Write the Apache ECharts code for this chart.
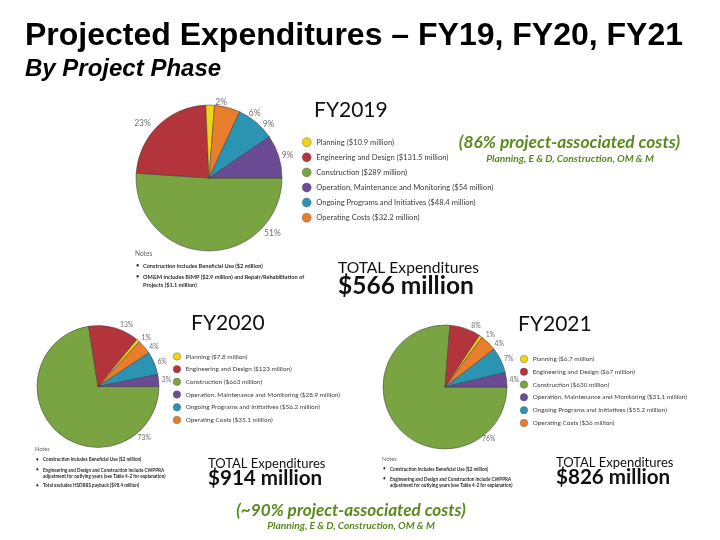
<!DOCTYPE html>
<html>
<head>
<meta charset="utf-8">
<script src="https://cdn.jsdelivr.net/npm/echarts@6/dist/echarts.min.js"></script>
<style>
    html, body { margin: 0; padding: 0; background: #fff; }
    #chart { width: 720px; height: 540px; }
</style>
</head>
<body>
<div id="chart"></div>
<script>
// legend order of the phases
const categories = [
    'Planning',
    'Engineering and Design',
    'Construction',
    'Operation, Maintenance and Monitoring',
    'Ongoing Programs and Initiatives',
    'Operating Costs'
];
const phaseColors = ['#f0d411', '#b3343a', '#7aa342', '#6b4b94', '#2b94b3', '#e87d2b'];
// order the slices are drawn, clockwise from 3 o'clock
const sliceOrder = [2, 1, 0, 5, 4, 3];

const years = ['FY2019', 'FY2020', 'FY2021'];
// $ million, legend order
const fy2019 = [10.9, 131.5, 289, 54, 48.4, 32.2];
const fy2020 = [7.8, 123, 663, 28.9, 56.2, 35.1];
const fy2021 = [6.7, 67, 630, 31.1, 55.2, 36];
// percentages as printed next to the slices
const pct2019 = [2, 23, 51, 9, 9, 6];
const pct2020 = [1, 13, 73, 3, 6, 4];
const pct2021 = [1, 8, 76, 4, 7, 4];
const totals = [566, 914, 826];

const notes2019 = [
    'Construction includes Beneficial Use ($2 million)',
    'OM&M includes BIMP ($2.9 million) and Repair/Rehabilitation of\nProjects ($1.1 million)'
];
const notes2020 = [
    'Construction includes Beneficial Use ($2 million)',
    'Engineering and Design and Construction include CWPPRA\nadjustment for outlying years (see Table 4-2 for explanation)',
    'Total excludes HSDRRS payback ($98.4 million)'
];
const notes2021 = [
    'Construction includes Beneficial Use ($2 million)',
    'Engineering and Design and Construction include CWPPRA\nadjustment for outlying years (see Table 4-2 for explanation)'
];

const yearValues = [fy2019, fy2020, fy2021];
const yearPct = [pct2019, pct2020, pct2021];
const yearNotes = [notes2019, notes2020, notes2021];

// layout of the three panels
const panels = [
    {
        center: [209, 178], r: 73, labelSize: 8.5, bigAngle: 41, bigGap: 11,
        legend: { left: 302, top: 137.5, icon: 9, gap: 5.7, font: 7.6 },
        title: [314, 110], total: [338, 268, 15.6, 24.5],
        notes: { x: 135, y: 254, size: 5.6, step: 11, line: 8.5 }
    },
    {
        center: [98, 386.5], r: 61, labelSize: 6.8, bigAngle: 48, bigGap: 8,
        legend: { left: 173, top: 352.5, icon: 7.5, gap: 4.8, font: 6.4 },
        title: [191, 323], total: [208, 463.5, 13, 20.6],
        notes: { x: 35, y: 449, size: 4.6, step: 10.5, line: 6.5 }
    },
    {
        center: [445, 387], r: 62, labelSize: 6.8, bigAngle: 50, bigGap: 6,
        legend: { left: 520, top: 355, icon: 7.5, gap: 4.9, font: 6.4 },
        title: [518, 324], total: [556, 462.5, 13, 20.6],
        notes: { x: 382, y: 459, size: 4.6, step: 10, line: 6.5 }
    }
];

const chart = echarts.init(document.getElementById('chart'));

const itemName = (y, ci) => categories[ci] + ' ($' + yearValues[y][ci] + ' million)';

const series = [];
const legends = [];
const graphics = [];

function txt(x, y, text, font, fill, extra) {
    graphics.push({
        type: 'text', x: x, y: y, silent: true,
        style: Object.assign({ text: text, font: font, fill: fill, textVerticalAlign: 'middle' }, extra || {})
    });
}

panels.forEach((p, y) => {
    series.push({
        type: 'pie',
        name: years[y],
        center: p.center,
        radius: [0, p.r],
        startAngle: 0,
        clockwise: true,
        animation: false,
        avoidLabelOverlap: true,
        itemStyle: { borderColor: '#3a3a3a', borderWidth: 0.5 },
        label: {
            show: true,
            position: 'outside',
            color: '#707070',
            fontFamily: 'Lato',
            fontSize: p.labelSize,
            formatter: params => yearPct[y][sliceOrder[params.dataIndex]] + '%'
        },
        labelLine: { show: false, length: 3, length2: 0 },
        labelLayout: params => {
            // the big construction slice is labelled at its lower right
            if (params.dataIndex !== 0) return {};
            const a = p.bigAngle * Math.PI / 180;
            return {
                x: p.center[0] + (p.r + p.bigGap) * Math.cos(a),
                y: p.center[1] + (p.r + p.bigGap) * Math.sin(a),
                align: 'center',
                verticalAlign: 'middle'
            };
        },
        emphasis: { disabled: true },
        data: sliceOrder.map(ci => ({
            name: itemName(y, ci),
            value: yearValues[y][ci],
            itemStyle: { color: phaseColors[ci] }
        }))
    });

    legends.push({
        orient: 'vertical',
        left: p.legend.left,
        top: p.legend.top,
        icon: 'circle',
        itemWidth: p.legend.icon,
        itemHeight: p.legend.icon,
        itemGap: p.legend.gap,
        padding: 0,
        selectedMode: false,
        itemStyle: { borderColor: '#555', borderWidth: 0.4 },
        textStyle: { color: '#3c3c3c', fontFamily: 'Lato', fontSize: p.legend.font, lineHeight: p.legend.icon },
        data: categories.map((c, ci) => itemName(y, ci))
    });

    txt(p.title[0], p.title[1], years[y], '21px Lato', '#111');
    txt(p.total[0], p.total[1], 'TOTAL Expenditures', p.total[2] + 'px Lato', '#111');
    txt(p.total[0], p.total[1] + p.total[3] * 0.72, '$' + totals[y] + ' million', 'bold ' + p.total[3] + 'px Lato', '#111');

    const n = p.notes;
    txt(n.x, n.y, 'Notes', (n.size + 1) + 'px Lato', '#666');
    let ny = n.y + n.step;
    yearNotes[y].forEach(line => {
        txt(n.x + 1, ny, '•', 'bold ' + n.size + 'px Lato', '#333');
        txt(n.x + 8, ny, line, 'bold ' + n.size + 'px Lato', '#2a2a2a', { lineHeight: n.line, textVerticalAlign: 'top', y: -n.size * 0.6 });
        ny += n.step + (line.indexOf('\n') >= 0 ? n.line * 0.7 : 0);
    });
});

// slide headings
txt(25, 36, 'Projected Expenditures – FY19, FY20, FY21', 'bold 32px "Liberation Sans"', '#000');
txt(25, 69.5, 'By Project Phase', 'italic bold 24px "Liberation Sans"', '#000');

// green call-outs
const green = '#5b8a1e';
txt(569.5, 142, '(86% project-associated costs)', 'italic bold 17.4px Lato', green, { textAlign: 'center' });
txt(570, 158.5, 'Planning, E & D, Construction, OM & M', 'italic bold 10.2px Lato', green, { textAlign: 'center' });
txt(351, 510, '(~90% project-associated costs)', 'italic bold 17.2px Lato', green, { textAlign: 'center' });
txt(351, 525.5, 'Planning, E & D, Construction, OM & M', 'italic bold 10.2px Lato', green, { textAlign: 'center' });

chart.setOption({
    backgroundColor: '#fff',
    animation: false,
    legend: legends,
    graphic: graphics,
    series: series
});
</script>
</body>
</html>
